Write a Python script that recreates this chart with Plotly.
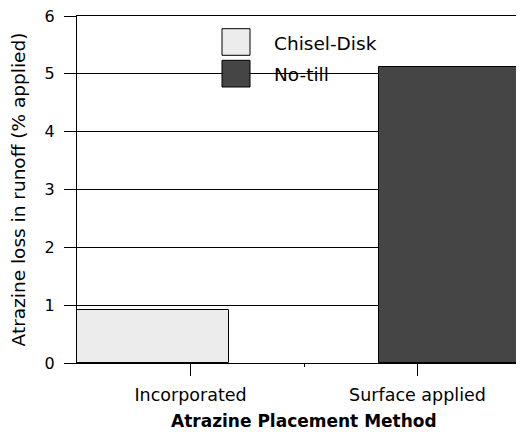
import plotly.graph_objects as go

categories = ["Incorporated", "Surface applied"]
chisel_disk = [0.92, None]
no_till = [None, 5.12]
y_ticks = [0, 1, 2, 3, 4, 5, 6]

FONT = "DejaVu Sans"
xs = list(range(len(categories)))

# page body has an 8px margin: work in screen pixels, then shift
OFF = 8
SW, SH = 524, 432
SL, ST, SB = 77, 16, 363   # plot-area left/top/bottom on screen
W, H = SW - OFF, SH - OFF

fig = go.Figure()
fig.add_trace(go.Bar(
    x=xs, y=chisel_disk, name="Chisel-Disk", width=0.67, offset=-0.5,
    marker=dict(color="#ececec", line=dict(color="#000000", width=1)),
    showlegend=False,
))
fig.add_trace(go.Bar(
    x=xs, y=no_till, name="No-till", width=0.67, offset=-0.17,
    marker=dict(color="#454545", line=dict(color="#000000", width=1)),
    showlegend=False,
))

def px(xp):
    return (xp - SL) / (SW - SL)
def py(yp):
    return (SB - yp) / (SB - ST)

legend_items = [("Chisel-Disk", "#ececec", 28.7, 55.3), ("No-till", "#454545", 60.3, 87.0)]
for name, col, y0, y1 in legend_items:
    fig.add_shape(type="rect", xref="paper", yref="paper",
                  x0=px(222), x1=px(250), y0=py(y1), y1=py(y0),
                  fillcolor=col, line=dict(color="#000000", width=1), layer="above")
    fig.add_annotation(text=name, xref="paper", yref="paper",
                       x=px(272), y=py((y0 + y1) / 2 + 1), xanchor="left", yanchor="middle",
                       showarrow=False, font=dict(family=FONT, size=18.5, color="#000"))

fig.add_annotation(text="<b>Atrazine Placement Method</b>", xref="x", yref="paper",
                   x=0.5, y=py(421), xanchor="center", yanchor="middle", showarrow=False,
                   font=dict(family=FONT, size=17, color="#000"))

fig.update_layout(
    width=W, height=H,
    margin=dict(l=SL - OFF, r=0, t=ST - OFF, b=SH - SB, pad=0, autoexpand=False),
    plot_bgcolor="white", paper_bgcolor="white",
    barmode="overlay", bargap=0,
    font=dict(family=FONT, color="#000"),
    showlegend=False,
)
fig.update_xaxes(
    range=[-0.5, -0.5 + (SW - SL) / 227.0],
    tickmode="array", tickvals=xs, ticktext=categories,
    ticks="outside", ticklen=12, tickcolor="#000", tickwidth=1,
    tickfont=dict(family=FONT, size=17.5, color="#000"),
    ticklabelstandoff=4, ticklabeloverflow="allow",
    showline=True, linecolor="#000", linewidth=1, mirror=True,
    showgrid=False, zeroline=False,
    minor=dict(tickvals=[0.5], ticks="outside", ticklen=3, tickcolor="#000"),
)
fig.update_yaxes(
    range=[0, 6], tickmode="array", tickvals=y_ticks,
    ticks="outside", ticklen=12, tickcolor="#000", tickwidth=1,
    tickfont=dict(family=FONT, size=16, color="#000"),
    ticklabelstandoff=6, ticklabeloverflow="allow",
    showline=True, linecolor="#000", linewidth=1,
    showgrid=True, gridcolor="#000", gridwidth=1, zeroline=False,
    title=dict(text="Atrazine loss in runoff (% applied)", standoff=14,
               font=dict(family=FONT, size=18.5, color="#000")),
)

fig.write_html("out.html")
